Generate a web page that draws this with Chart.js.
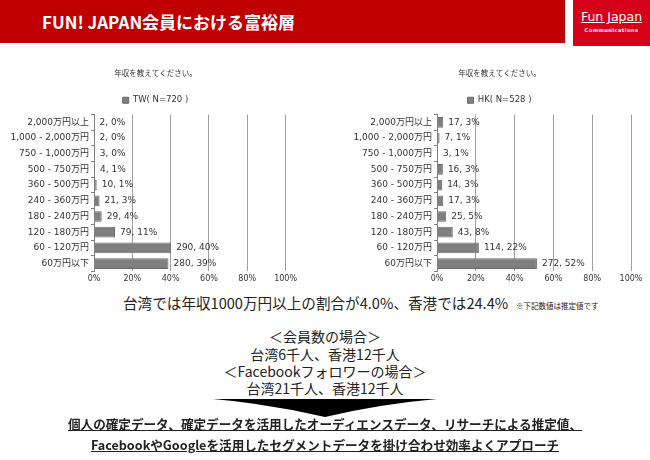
<!DOCTYPE html>
<html>
<head>
<meta charset="utf-8">
<script src="https://cdn.jsdelivr.net/npm/chart.js@4.4.1/dist/chart.umd.min.js"></script>
<style>
  body { margin: 0; width: 650px; height: 460px; background: #fff; overflow: hidden;
         font-family: "Noto Sans CJK JP", "Noto Sans", sans-serif; color: #222; position: relative; }
  .head { position: absolute; left: 0; top: 0; width: 565px; height: 43px; background: #c00000; }
  .head span { position: absolute; left: 42px; top: 9px; color: #fff; font-weight: bold; font-size: 17px; }
  .logo { position: absolute; left: 573px; top: 0; width: 77px; height: 46px; background: #d7001b; color: #fff; text-align: center; }
  .logo .l1 { font-family: "DejaVu Sans", sans-serif; font-size: 12.5px; text-decoration: underline; margin-top: 10px; line-height: 14px; }
  .logo .l2 { font-family: "DejaVu Sans", sans-serif; font-size: 5px; font-weight: bold; letter-spacing: 0.5px; margin-top: 3px; }
  .box { position: absolute; }
  .txt { position: absolute; white-space: nowrap; }
  .c { left: 0; width: 650px; text-align: center; font-size: 14px; line-height: 17px; }
  .b { left: 0; width: 650px; text-align: center; font-size: 12.6px; font-weight: bold; text-decoration: underline; line-height: 20px; }
</style>
</head>
<body>
<div class="head"><span>FUN! JAPAN会員における富裕層</span></div>
<div class="logo"><div class="l1">Fun Japan</div><div class="l2">Communications</div></div>

<div class="box" style="left:0;top:62px;width:300px;height:228px"><canvas id="tw"></canvas></div>
<div class="box" style="left:330px;top:62px;width:320px;height:228px"><canvas id="hk"></canvas></div>

<div class="txt" style="left:123px;top:292px;font-size:14.6px">台湾では年収1000万円以上の割合が4.0%、香港では24.4%</div>
<div class="txt" style="left:516px;top:300px;font-size:7.5px">※下記数値は推定値です</div>

<div class="txt c" style="top:328px">＜会員数の場合＞</div>
<div class="txt c" style="top:346px">台湾6千人、香港12千人</div>
<div class="txt c" style="top:363px">＜Facebookフォロワーの場合＞</div>
<div class="txt c" style="top:380px">台湾21千人、香港12千人</div>
<svg class="box" style="left:0;top:0" width="650" height="460">
  <path d="M213 399 L437 399 Q380 404 325 417 Q270 404 213 399 Z" fill="#000"/>
</svg>
<div class="txt b" style="top:414px">個人の確定データ、確定データを活用したオーディエンスデータ、リサーチによる推定値、</div>
<div class="txt b" style="top:435px">FacebookやGoogleを活用したセグメントデータを掛け合わせ効率よくアプローチ</div>

<script>
const incomeBands = ['2,000万円以上', '1,000 - 2,000万円', '750 - 1,000万円', '500 - 750万円',
  '360 - 500万円', '240 - 360万円', '180 - 240万円', '120 - 180万円', '60 - 120万円', '60万円以下'];
const twCounts = [2, 2, 3, 4, 10, 21, 29, 79, 290, 280];
const twTotal = 720;
const hkCounts = [17, 7, 3, 16, 14, 17, 25, 43, 114, 272];
const hkTotal = 528;
const xTicks = [0, 20, 40, 60, 80, 100];

const fontFam = '"DejaVu Sans", "Noto Sans CJK JP", sans-serif';

// data labels "count, pct%" just right of each bar
const barLabels = {
  id: 'barLabels',
  afterDatasetsDraw(chart) {
    const ctx = chart.ctx;
    const ds = chart.data.datasets[0];
    const meta = chart.getDatasetMeta(0);
    ctx.save();
    ctx.font = '9px ' + fontFam;
    ctx.fillStyle = '#333';
    ctx.textBaseline = 'middle';
    meta.data.forEach((bar, i) => {
      ctx.fillText(ds.counts[i] + ', ' + Math.round(ds.data[i]) + '%', bar.x + 5, bar.y);
    });
    ctx.restore();
  }
};

// move title + legend sideways so they sit over the middle like the original
const headShift = {
  id: 'headShift',
  afterLayout(chart, args, opts) {
    [chart.titleBlock, chart.legend].forEach(b => {
      if (b) { b.left += opts.dx; b.right += opts.dx; }
    });
  }
};

function makeChart(id, name, counts, total, axisWidth, rightPad, dx) {
  const pct = counts.map(c => c / total * 100);
  new Chart(document.getElementById(id), {
    type: 'bar',
    data: {
      labels: incomeBands,
      datasets: [{
        label: name + '( N=' + total + ' )',
        data: pct,
        counts: counts,
        backgroundColor: '#7f7f7f',
        borderColor: '#6a6a6a',
        borderWidth: 1,
        categoryPercentage: 1,
        barPercentage: 0.68
      }]
    },
    options: {
      indexAxis: 'y',
      responsive: true,
      maintainAspectRatio: false,
      animation: false,
      layout: { padding: { left: 0, right: rightPad, top: 0, bottom: 3 } },
      plugins: {
        title: { display: true, text: '年収を教えてください。', color: '#333',
          font: { size: 7.5, family: '"Noto Sans CJK JP"', weight: 'normal' }, padding: { top: 7, bottom: 6 } },
        legend: { display: true, labels: { boxWidth: 6, boxHeight: 6, color: '#333', padding: 12,
          font: { size: 8.5, family: fontFam } } },
        tooltip: { enabled: false },
        headShift: { dx: dx }
      },
      scales: {
        x: {
          min: 0, max: 100,
          afterBuildTicks: s => { s.ticks = xTicks.map(v => ({ value: v })); },
          ticks: { callback: v => v + '%', color: '#333', font: { size: 8, family: fontFam }, padding: 3 },
          grid: { color: '#a0a0a0', drawTicks: false },
          border: { display: false }
        },
        y: {
          afterFit: s => { s.width = axisWidth; },
          ticks: { color: '#333', font: { size: 9, family: fontFam }, padding: 2 },
          grid: { drawOnChartArea: false, tickLength: 3, color: '#808080' },
          border: { color: '#808080' }
        }
      }
    },
    plugins: [barLabels, headShift]
  });
}

makeChart('tw', 'TW', twCounts, twTotal, 94, 13, 12);
makeChart('hk', 'HK', hkCounts, hkTotal, 107, 19, 19);
</script>
</body>
</html>
